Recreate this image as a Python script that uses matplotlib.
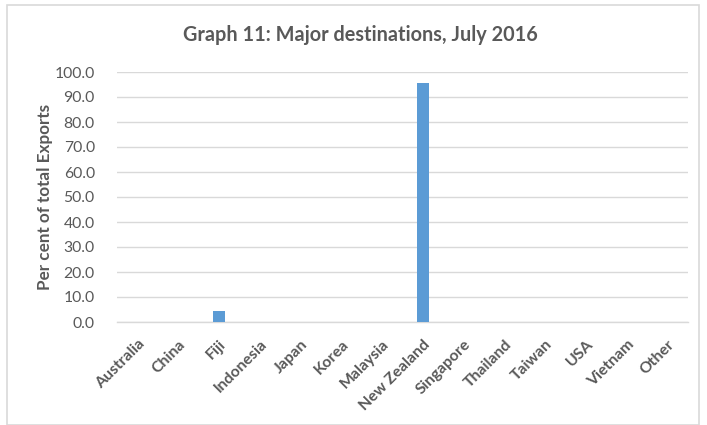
import matplotlib
matplotlib.use("Agg")
import matplotlib.pyplot as plt
from matplotlib.patches import Rectangle

categories = ["Australia", "China", "Fiji", "Indonesia", "Japan", "Korea", "Malaysia",
              "New Zealand", "Singapore", "Thailand", "Taiwan", "USA", "Vietnam", "Other"]
values = [0.0, 0.0, 4.4, 0.0, 0.0, 0.0, 0.0, 95.6, 0.0, 0.0, 0.0, 0.0, 0.0, 0.0]
yticks = [0, 10, 20, 30, 40, 50, 60, 70, 80, 90, 100]

plt.rcParams['font.family'] = ['Lato', 'DejaVu Sans']
gray = '#595959'

fig = plt.figure(figsize=(7.07, 4.25), dpi=100)
fig.patches.append(Rectangle((7/707, 0), 692/707, 1 - 5/425, transform=fig.transFigure,
                             fill=False, edgecolor='#d9d9d9', linewidth=1.2))
ax = fig.add_axes([117/707, 1 - 322/425, (688 - 117)/707, (322 - 72)/425])

x = list(range(len(categories)))
ax.bar(x, values, width=0.31, color='#5b9bd5', zorder=3)
ax.set_xlim(-0.5, len(categories) - 0.5)
ax.set_ylim(0, 100)
ax.set_yticks(yticks)
ax.set_yticklabels([f"{v:.1f}" for v in yticks], color=gray, fontsize=11.3)
ax.set_xticks(x)
ax.set_xticklabels(categories, rotation=45, ha='right', rotation_mode='anchor',
                   color=gray, fontsize=11.3, fontweight='bold')
ax.tick_params(axis='both', length=0)
ax.tick_params(axis='y', pad=16)
ax.tick_params(axis='x', pad=11)
ax.grid(axis='y', color='#d9d9d9', linewidth=1, zorder=0)
for s in ['top', 'right', 'left']:
    ax.spines[s].set_visible(False)
ax.spines['bottom'].set_color('#d9d9d9')
ax.spines['bottom'].set_linewidth(1)
ax.set_ylabel("Per cent of total Exports", color=gray, fontsize=12.3, fontweight='bold')
ax.yaxis.set_label_coords((53 - 117) / 571, 0.5)
fig.text(360/707, 1 - 35/425, "Graph 11: Major destinations, July 2016", ha='center', va='center',
         color=gray, fontsize=14.3, fontweight='bold')

fig.savefig("out.png", dpi=100)
